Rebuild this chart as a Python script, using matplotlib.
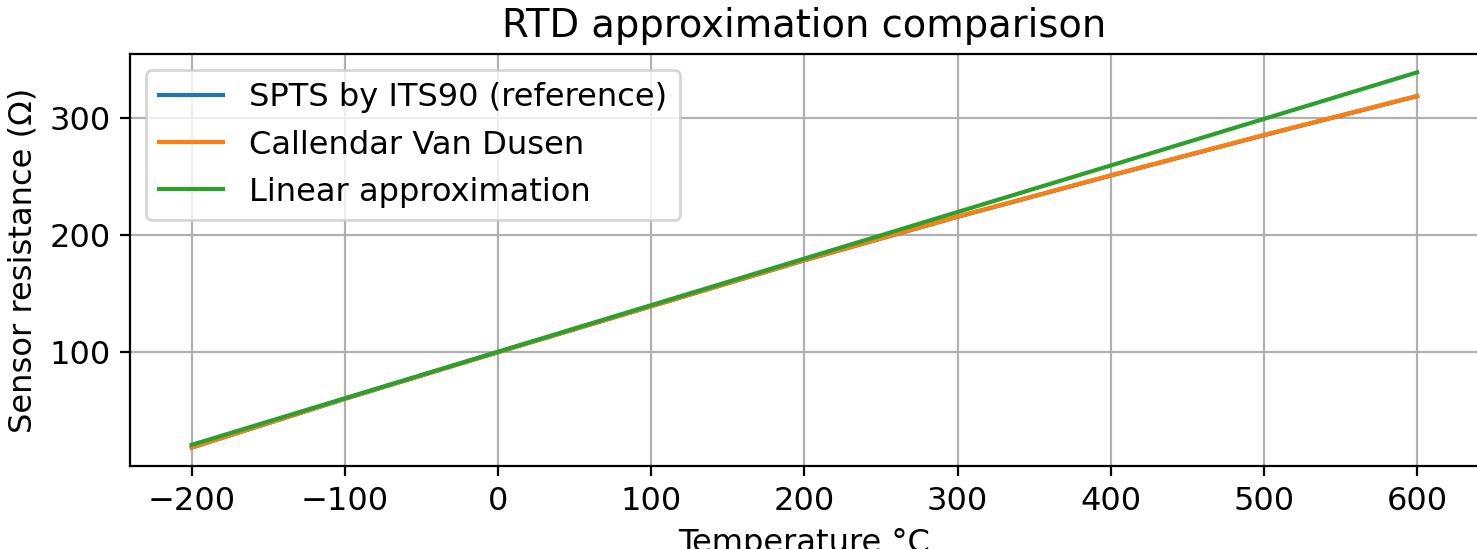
import matplotlib
matplotlib.use("Agg")
import matplotlib.pyplot as plt

temperature = [-200, -100, 0, 100, 200, 300, 400, 500, 600]
spts_its90 = [18.6, 60.2, 100.0, 139.1, 178.3, 215.4, 250.6, 285.0, 318.3]
callendar_van_dusen = [18.8, 60.3, 100.0, 139.2, 178.5, 215.6, 250.8, 285.2, 318.5]
linear_approx = [21.0, 60.7, 100.4, 140.1, 179.8, 219.5, 259.2, 298.9, 338.6]

plt.rcParams['font.size'] = 11.55
fig = plt.figure(figsize=(1477 / 200, 549 / 200), dpi=200)
ax = fig.add_axes([130.4 / 1477, (549 - 466.4) / 549, 1348 / 1477, (466.4 - 53.6) / 549])

ax.plot(temperature, spts_its90, label="SPTS by ITS90 (reference)")
ax.plot(temperature, callendar_van_dusen, label="Callendar Van Dusen")
ax.plot(temperature, linear_approx, label="Linear approximation")

ax.set_title("RTD approximation comparison")
ax.set_xlabel("Temperature °C")
ax.set_ylabel("Sensor resistance (Ω)")
ax.set_xticks([-200, -100, 0, 100, 200, 300, 400, 500, 600])
ax.set_yticks([100, 200, 300])
ax.spines['right'].set_visible(False)
ax.grid(True)
ax.legend(loc="upper left")

fig.savefig("out.png", dpi=200)
